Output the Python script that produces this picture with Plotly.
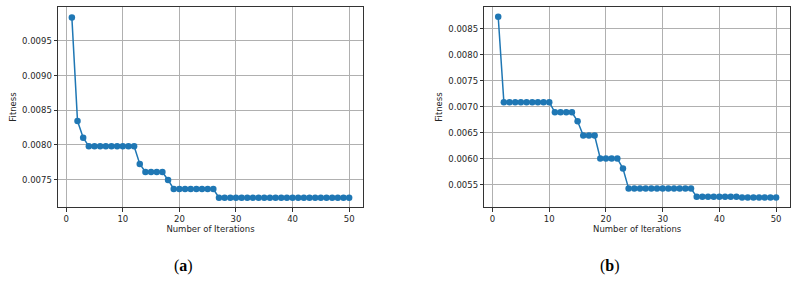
import plotly.graph_objects as go

iterations = list(range(1, 51))

fitness_a = [0.00984, 0.008345, 0.008105] + [0.00798] * 9 + [0.007725] + [0.00761] * 4 + [0.007495] + [0.007365] * 8 + [0.00724] * 24
fitness_b = [0.00873] + [0.00709] * 9 + [0.006895] * 4 + [0.006723] + [0.00645] * 3 + [0.00601] * 4 + [0.005815] + [0.00543] * 12 + [0.005272] * 8 + [0.00526] * 7

x_ticks = [0, 10, 20, 30, 40, 50]
captions = ["(<b>a</b>)", "(<b>b</b>)"]
x_title = "Number of Iterations"
y_title = "Fitness"

COLOR = "#1f77b4"
FONT = "DejaVu Sans"

fig = go.Figure()
fig.add_trace(go.Scatter(x=iterations, y=fitness_a, mode="lines+markers",
                         line=dict(color=COLOR, width=1.5),
                         marker=dict(color=COLOR, size=6.5),
                         xaxis="x", yaxis="y", showlegend=False))
fig.add_trace(go.Scatter(x=iterations, y=fitness_b, mode="lines+markers",
                         line=dict(color=COLOR, width=1.5),
                         marker=dict(color=COLOR, size=6.5),
                         xaxis="x2", yaxis="y2", showlegend=False))

W, H = 798, 282
ydom = [1 - 207 / H, 1 - 7 / H]

common_x = dict(range=[-1.45, 52.45], tickvals=x_ticks, showgrid=True, gridcolor="#b0b0b0",
                gridwidth=0.8, showline=True, linecolor="#333333", linewidth=1, mirror=True,
                ticks="outside", ticklen=3.5, tickcolor="#333333", zeroline=False,
                tickfont=dict(family=FONT, size=8.5, color="#262626"),
                title=dict(text=x_title, font=dict(family=FONT, size=8.5, color="#262626"), standoff=3))
common_y = dict(dtick=0.0005, tickformat=".4f", showgrid=True, gridcolor="#b0b0b0",
                gridwidth=0.8, showline=True, linecolor="#333333", linewidth=1, mirror=True,
                ticks="outside", ticklen=3.5, tickcolor="#333333", zeroline=False,
                tickfont=dict(family=FONT, size=8.5, color="#262626"),
                title=dict(text=y_title, font=dict(family=FONT, size=8.5, color="#262626"), standoff=4))

fig.update_layout(
    width=W, height=H,
    margin=dict(l=0, r=0, t=0, b=0),
    paper_bgcolor="white", plot_bgcolor="white",
    xaxis=dict(domain=[58 / W, 363 / W], anchor="y", **common_x),
    yaxis=dict(domain=ydom, anchor="x", range=[0.007105, 0.00999], tick0=0.0075, **common_y),
    xaxis2=dict(domain=[484.3 / W, 790 / W], anchor="y2", **common_x),
    yaxis2=dict(domain=ydom, anchor="x2", range=[0.005077, 0.008917], tick0=0.0055, **common_y),
    annotations=[
        dict(text=captions[0], x=183 / W, y=1 - 266 / H, xref="paper", yref="paper",
             xanchor="center", yanchor="middle",
             showarrow=False, font=dict(family="Liberation Serif", size=16, color="black")),
        dict(text=captions[1], x=610 / W, y=1 - 266 / H, xref="paper", yref="paper",
             xanchor="center", yanchor="middle",
             showarrow=False, font=dict(family="Liberation Serif", size=16, color="black")),
    ],
)

fig.write_html("out.html", config={"displayModeBar": False},
               post_script="document.body.style.margin='0';")
